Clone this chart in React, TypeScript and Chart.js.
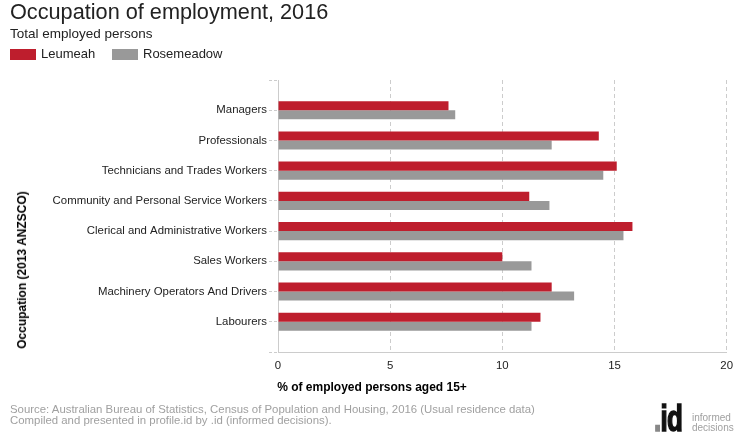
import React, { useEffect, useRef } from 'react';
import { Chart, registerables } from 'chart.js';

Chart.register(...registerables);

const categories = [
  'Managers',
  'Professionals',
  'Technicians and Trades Workers',
  'Community and Personal Service Workers',
  'Clerical and Administrative Workers',
  'Sales Workers',
  'Machinery Operators And Drivers',
  'Labourers',
];
const leumeah = [7.6, 14.3, 15.1, 11.2, 15.8, 10.0, 12.2, 11.7];
const rosemeadow = [7.9, 12.2, 14.5, 12.1, 15.4, 11.3, 13.2, 11.3];
const seriesNames = ['Leumeah', 'Rosemeadow'];
const seriesColors = ['#BE1E2D', '#999999'];
const xMin = 0;
const xMax = 20;
const xStep = 5;

const FONT = "'Liberation Sans', Arial, Helvetica, sans-serif";
const TEXT = '#222222';

function T(props: {
  x: number;
  baseline: number;
  size: number;
  bold?: boolean;
  color?: string;
  children: React.ReactNode;
  center?: boolean;
}) {
  const { x, baseline, size, bold, color, children, center } = props;
  return (
    <div
      style={{
        position: 'absolute',
        left: x,
        top: baseline - 0.8465 * size,
        fontSize: size,
        lineHeight: `${size}px`,
        fontWeight: bold ? 'bold' : 'normal',
        color: color || TEXT,
        whiteSpace: 'nowrap',
        transform: center ? 'translateX(-50%)' : undefined,
      }}
    >
      {children}
    </div>
  );
}

export default function App() {
  const ref = useRef<HTMLCanvasElement | null>(null);

  useEffect(() => {
    if (!ref.current) return;
    const labels = ['', ...categories, ''];
    const pad = (arr: number[]) => [null, ...arr, null];
    const chart = new Chart(ref.current, {
      type: 'bar',
      data: {
        labels,
        datasets: [
          {
            label: seriesNames[0],
            data: pad(leumeah),
            backgroundColor: seriesColors[0],
            borderWidth: 0,
            barPercentage: 1,
            categoryPercentage: 0.6,
          },
          {
            label: seriesNames[1],
            data: pad(rosemeadow),
            backgroundColor: seriesColors[1],
            borderWidth: 0,
            barPercentage: 1,
            categoryPercentage: 0.6,
          },
        ],
      },
      options: {
        indexAxis: 'y',
        animation: false,
        responsive: false,
        maintainAspectRatio: false,
        devicePixelRatio: 1,
        layout: { padding: { left: 0, top: 80, right: 12, bottom: 63 } },
        plugins: {
          legend: { display: false },
          title: { display: false },
          tooltip: { enabled: false },
        },
        scales: {
          x: {
            type: 'linear',
            position: 'bottom',
            min: xMin,
            max: xMax,
            afterFit: (s: any) => {
              s.height = 25;
            },
            ticks: {
              stepSize: xStep,
              color: TEXT,
              padding: 7,
              font: { family: FONT, size: 11.4 },
            },
            grid: {
              color: '#cccccc',
              lineWidth: 1,
              drawTicks: false,
              borderDash: [4, 3],
            },
            border: { display: true, color: '#cccccc', dash: [4, 3] },
          },
          y: {
            type: 'category',
            offset: false,
            afterFit: (s: any) => {
              s.width = 278;
            },
            ticks: {
              color: TEXT,
              padding: 2,
              autoSkip: false,
              font: { family: FONT, size: 11.4 },
            },
            grid: {
              offset: false,
              drawOnChartArea: false,
              drawTicks: true,
              tickLength: 9,
              tickColor: '#cccccc',
              tickBorderDash: [3, 2],
            },
            border: { display: true, color: '#cccccc' },
          },
        },
      } as any,
    });
    return () => chart.destroy();
  }, []);

  return (
    <div
      style={{
        position: 'absolute',
        left: 0,
        top: 0,
        width: 740,
        height: 440,
        background: '#ffffff',
        fontFamily: FONT,
        overflow: 'hidden',
      }}
    >
      <canvas
        ref={ref}
        width={740}
        height={440}
        style={{ position: 'absolute', left: 0, top: 0, width: 740, height: 440 }}
      />
      <T x={10} baseline={19} size={21.7}>
        Occupation of employment, 2016
      </T>
      <T x={10} baseline={38} size={13.5}>
        Total employed persons
      </T>
      <div style={{ position: 'absolute', left: 10, top: 49, width: 26, height: 11, background: seriesColors[0] }} />
      <T x={41} baseline={58} size={13}>
        {seriesNames[0]}
      </T>
      <div style={{ position: 'absolute', left: 112, top: 49, width: 26, height: 11, background: seriesColors[1] }} />
      <T x={143} baseline={58} size={13}>
        {seriesNames[1]}
      </T>
      <div
        style={{
          position: 'absolute',
          left: 22,
          top: 270,
          transform: 'translate(-50%, -50%) rotate(-90deg)',
          fontSize: 12,
          lineHeight: '12px',
          fontWeight: 'bold',
          color: '#000',
          whiteSpace: 'nowrap',
        }}
      >
        Occupation (2013 ANZSCO)
      </div>
      <T x={372} baseline={391} size={12} bold color="#000" center>
        % of employed persons aged 15+
      </T>
      <T x={10} baseline={414} size={11.4} color="#a0a0a0">
        Source: Australian Bureau of Statistics, Census of Population and Housing, 2016 (Usual residence data)
      </T>
      <T x={10} baseline={425} size={11.4} color="#a0a0a0">
        Compiled and presented in profile.id by .id (informed decisions).
      </T>
      <div
        style={{
          position: 'absolute',
          left: 654,
          top: 431 - 0.8465 * 36,
          fontSize: 36,
          lineHeight: '36px',
          fontWeight: 'bold',
          letterSpacing: -1,
          whiteSpace: 'nowrap',
          transform: 'scaleX(0.72)',
          transformOrigin: 'left top',
          WebkitTextStroke: '1.6px currentColor',
        }}
      >
        <span style={{ color: '#888' }}>.</span>
        <span style={{ color: '#111' }}>id</span>
      </div>
      <T x={692} baseline={421} size={10} color="#a0a0a0">
        informed
      </T>
      <T x={692} baseline={431} size={10} color="#a0a0a0">
        decisions
      </T>
    </div>
  );
}
